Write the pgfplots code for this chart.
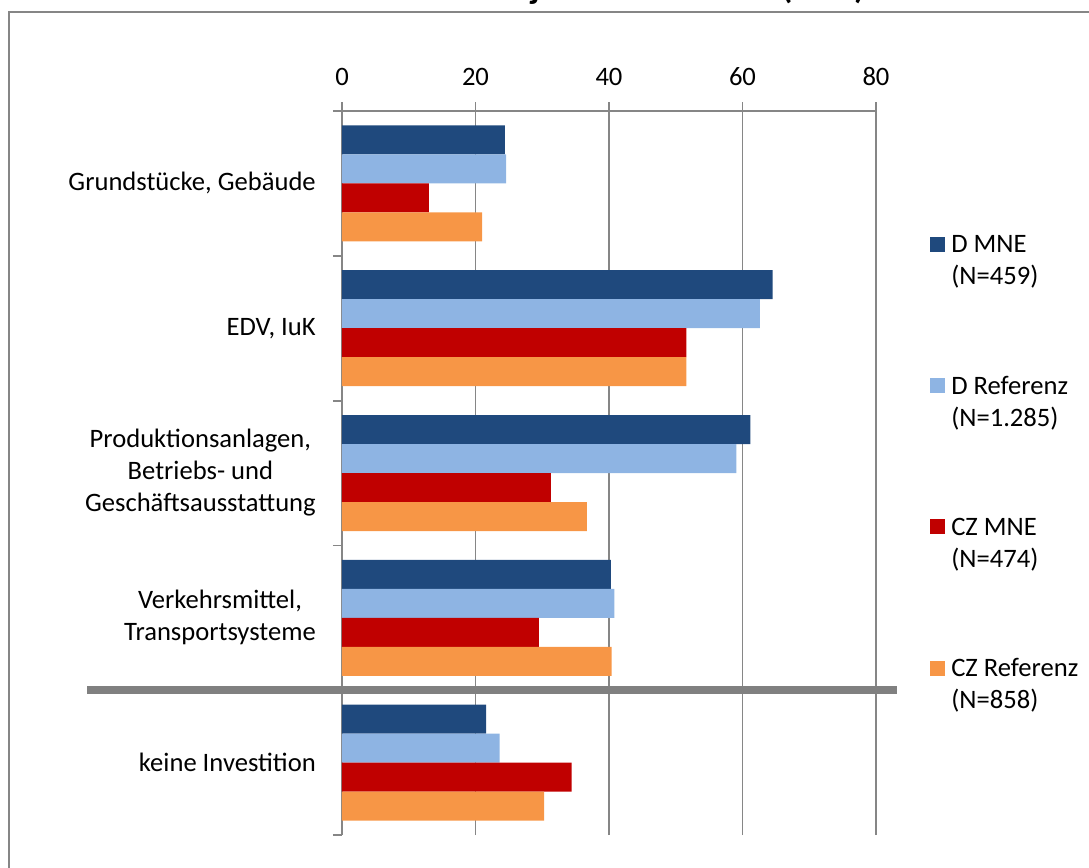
\documentclass[border=0pt]{standalone}
\usepackage{pgfplots}
\pgfplotsset{compat=1.18}
\usepackage{fontspec}
\setmainfont{Carlito}

\definecolor{dmne}{HTML}{1F497D}
\definecolor{dref}{HTML}{8EB4E3}
\definecolor{czmne}{HTML}{C00000}
\definecolor{czref}{HTML}{F79646}
\definecolor{axgray}{HTML}{868686}
\definecolor{sepgray}{HTML}{808080}

\newcommand{\twoline}[2]{\begin{tabular}[t]{@{}l@{}}#1\\#2\end{tabular}}

\begin{document}
\fontsize{13.3}{16}\selectfont
\begin{tikzpicture}
% page = 1089 x 868 px, 1 px = 0.5pt, origin top left
\useasboundingbox (0pt,0pt) rectangle (544.5pt,-434pt);
\clip (0pt,0pt) rectangle (544.5pt,-434pt);
% outer chart frame (right and bottom edge are cut off in the reference)
\draw[axgray, line width=1pt] (4.25pt,-6pt) rectangle (600pt,-500pt);
% title, only its descenders are visible
\node[anchor=base west, inner sep=0pt, font=\bfseries\fontsize{17.7}{21}\selectfont]
  at (161.5pt,1pt) {Investitionsobjekte 2007--2009 (in \%)};

\begin{axis}[
  at={(171pt,-417.5pt)}, anchor=south west,
  scale only axis, width=267pt, height=362pt,
  xbar, bar width=14.5pt,
  xmin=0, xmax=80, ymin=-0.5, ymax=4.5,
  axis x line*=top, axis y line*=left,
  axis line style={axgray, line width=0.9pt},
  tick style={axgray, line width=0.9pt},
  tick align=outside, major tick length=4.5pt,
  xtick={0,20,...,80},
  xmajorgrids, grid style={axgray, line width=0.9pt},
  xticklabel style={yshift=3.5pt},
  /pgf/number format/assume math mode=true,
  ytick={-0.5,0.5,...,4.5}, yticklabels={},
  extra y ticks={0,1,2,3,4},
  extra y tick labels={keine Investition,
    {Verkehrsmittel,\\Transportsysteme},
    {Produktionsanlagen,\\Betriebs- und\\Geschäftsausstattung},
    {EDV, IuK},
    {Grundstücke, Gebäude}},
  extra y tick style={major tick length=0pt,
    yticklabel style={align=center, xshift=-8.5pt}},
  legend style={at={(1.101,0.840)}, anchor=north west, draw=none, fill=none,
    inner sep=0pt, row sep=54.5pt, column sep=0pt,
    nodes={inner xsep=3pt, inner ysep=1.5pt}, cells={anchor=base west}},
  legend image code/.code={\fill[#1] (0pt,0.5pt) rectangle (7.5pt,8pt);},
  clip=false,
]
\addplot[fill=dmne, draw=none, bar shift=21.75pt]
  coordinates {(24.4,4) (64.5,3) (61.2,2) (40.3,1) (21.6,0)};
\addlegendentry{\twoline{D MNE}{(N=459)}}
\addplot[fill=dref, draw=none, bar shift=7.25pt]
  coordinates {(24.6,4) (62.6,3) (59.1,2) (40.8,1) (23.6,0)};
\addlegendentry{\twoline{D Referenz}{(N=1.285)}}
\addplot[fill=czmne, draw=none, bar shift=-7.25pt]
  coordinates {(13.0,4) (51.6,3) (31.3,2) (29.5,1) (34.4,0)};
\addlegendentry{\twoline{CZ MNE}{(N=474)}}
\addplot[fill=czref, draw=none, bar shift=-21.75pt]
  coordinates {(21.0,4) (51.6,3) (36.7,2) (40.4,1) (30.3,0)};
\addlegendentry{\twoline{CZ Referenz}{(N=858)}}
% separator between investment types and "keine Investition"
\draw[sepgray, line width=4pt] (axis cs:-38.2,0.5) -- (axis cs:83.1,0.5);
\end{axis}
\end{tikzpicture}
\end{document}
